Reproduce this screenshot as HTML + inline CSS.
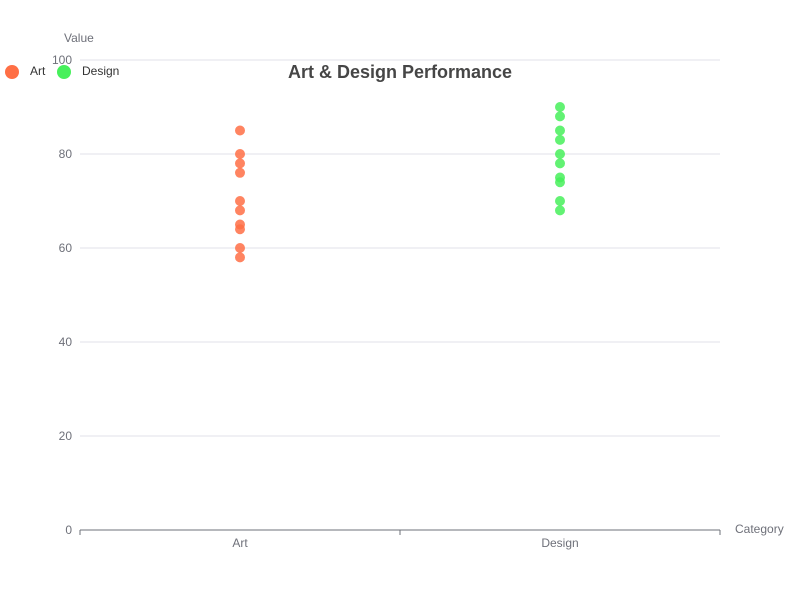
<!DOCTYPE html>
<html><head><meta charset="utf-8"><style>
body{margin:0;background:#fff;}
svg{display:block;font-family:"Liberation Sans",sans-serif;}
</style></head><body>
<svg id="chart" width="800" height="600"></svg>
<script>
const categories=["Art","Design"];
const artValues=[85,80,78,76,70,68,65,64,60,58];
const designValues=[90,88,85,83,80,78,75,74,70,68];
const yTicks=[0,20,40,60,80,100];
const NS="http://www.w3.org/2000/svg";
const svg=document.getElementById('chart');
const x0=80,x1=720,y0=530,y1=60;
const yScale=v=>y0-(v/100)*(y0-y1);
const band=(x1-x0)/categories.length;
const xScale=i=>x0+band*(i+0.5);
function mk(t,a,p){const e=document.createElementNS(NS,t);for(const k in a)e.setAttribute(k,a[k]);(p||svg).appendChild(e);return e;}
yTicks.forEach(t=>{
  const y=yScale(t);
  if(t>0){const l=mk('line',{x1:x0,x2:x1,y1:y,y2:y,stroke:'#e0e0ea','stroke-width':1});
  
  }
  const tx=mk('text',{x:72,y:y+4,'text-anchor':'end','font-size':12,fill:'#6e7079'});tx.textContent=t;
  
  
});
const ax=mk('line',{x1:x0,x2:x1,y1:y0,y2:y0,stroke:'#6e7079','stroke-width':1});


for(let i=0;i<=categories.length;i++){const tk=mk('line',{x1:x0+band*i,x2:x0+band*i,y1:y0,y2:y0+5,stroke:'#6e7079'});

}
categories.forEach((c,i)=>{const t=mk('text',{x:xScale(i),y:y0+17,'text-anchor':'middle','font-size':12,fill:'#6e7079'});t.textContent=c;

});
const series=[[artValues,'#ff6f45'],[designValues,'#47f05b']];
series.forEach(([vals,col],i)=>{vals.forEach(v=>{const c=mk('circle',{cx:xScale(i),cy:yScale(v),r:5,fill:col,'fill-opacity':0.85});

});});
</script>
<div style="position:absolute;left:0;top:0;width:800px;height:600px;pointer-events:none;font-family:'Liberation Sans',sans-serif;">
<div style="position:absolute;left:64px;top:31px;font-size:12px;color:#6e7079;">Value</div>
<div style="position:absolute;left:735px;top:522px;font-size:12px;color:#6e7079;">Category</div>
<div style="position:absolute;left:0;width:800px;top:62px;text-align:center;font-size:18px;font-weight:bold;color:#464646;">Art &amp; Design Performance</div>
<div style="position:absolute;left:5px;top:64px;font-size:12px;color:#333;"><span style="display:inline-block;width:14px;height:14px;border-radius:50%;background:#ff6f45;vertical-align:middle;margin-right:11px;"></span>Art</div>
<div style="position:absolute;left:57px;top:64px;font-size:12px;color:#333;"><span style="display:inline-block;width:14px;height:14px;border-radius:50%;background:#47f05b;vertical-align:middle;margin-right:11px;"></span>Design</div>
</div>
</body></html>
